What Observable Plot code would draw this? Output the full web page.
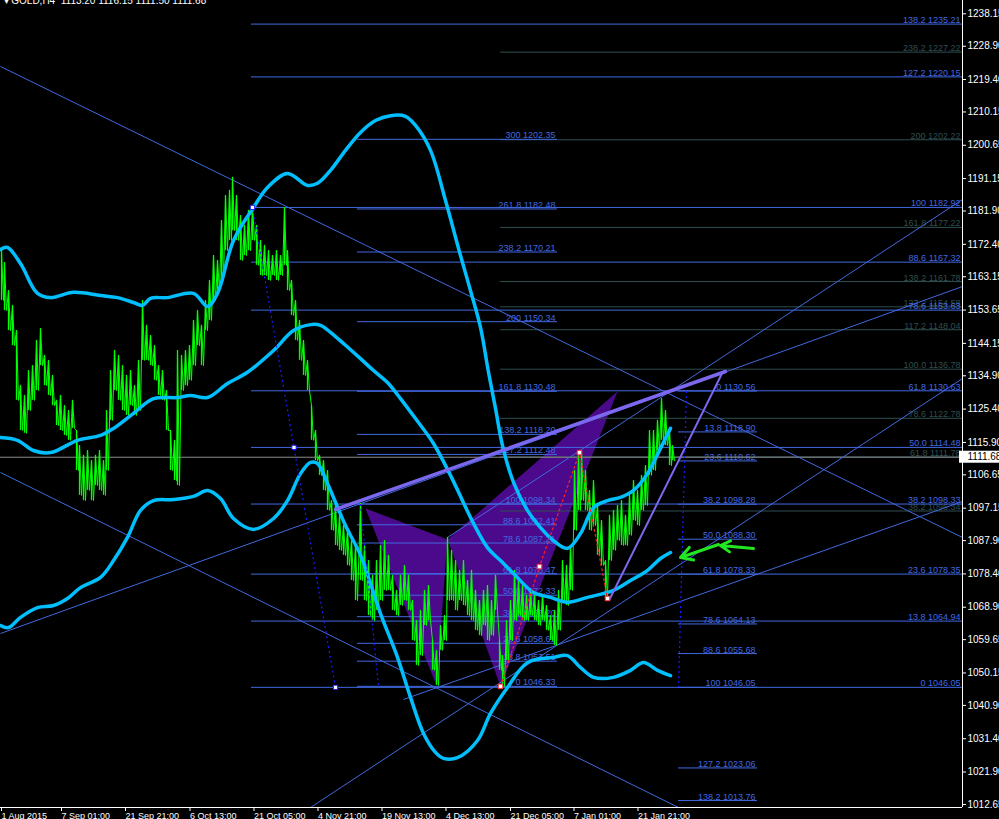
<!DOCTYPE html>
<html><head><meta charset="utf-8">
<script src="https://cdn.jsdelivr.net/npm/d3@7"></script>
<script src="https://cdn.jsdelivr.net/npm/@observablehq/plot@0.6"></script>
<style>html,body{margin:0;padding:0;background:#000;overflow:hidden}</style>
</head><body><div id="chart"></div>
<script>
// ---------- axes ----------
const headerText = "\u25BE GOLD,H4  1113.20 1116.15 1111.50 1111.68";
const yTicks = [1238.15,1228.90,1219.40,1210.15,1200.65,1191.15,1181.90,1172.40,1163.15,1153.65,1144.15,1134.90,1125.40,1115.90,1106.65,1097.15,1087.90,1078.40,1068.90,1059.65,1050.15,1040.90,1031.40,1021.90,1012.65];
const xTickPos = [1,61,125,189.5,253.5,317.5,381.5,445.5,510,573.5,637.5];
const xTickLabels = ["1 Aug 2015","7 Sep 01:00","21 Sep 21:00","6 Oct 13:00","21 Oct 05:00","4 Nov 21:00","19 Nov 13:00","4 Dec 13:00","21 Dec 05:00","7 Jan 01:00","21 Jan 21:00"];
const xDomain = [0, 962];
const yDomain = [1011.78, 1241.94];
const bidPrice = 1111.68;

// ---------- price (H4 bar position, high, low) ----------
const priceX = [1,4,8,12,16,20,24,28,32,36,40,44,48,52,56,60,64,68,72,76,79,83,87,91,95,99,103,106,110,114,118,122,126,130,134,138,142,146,150,154,158,162,166,170,174,177,181,185,189,193,197,201,205,209,213,217,221,225,229,232,236,240,244,248,252,256,260,264,268,272,276,280,284,287,291,295,299,303,307,311,315,319,323,327,331,335,339,343,347,351,355,360,364,368,372,376,380,384,388,392,396,400,404,408,412,416,420,424,428,432,436,440,444,447,451,455,459,463,467,471,475,479,483,487,491,495,499,502,506,510,514,518,522,526,530,534,538,542,546,550,554,558,562,566,570,574,578,581,585,589,593,597,601,605,609,613,617,621,625,629,633,637,641,645,649,653,657,661,665,669,672];
const priceHigh = [1170.6,1167.2,1159.2,1155.0,1147.8,1132.1,1129.3,1136.4,1137.8,1145.0,1148.4,1140.7,1139.3,1135.0,1127.9,1129.3,1126.4,1125.0,1127.9,1119.3,1115.0,1112.2,1113.6,1110.7,1112.2,1113.6,1110.7,1125.0,1136.4,1142.1,1140.7,1137.8,1135.0,1136.4,1132.1,1139.3,1156.4,1149.3,1146.4,1143.5,1137.8,1136.4,1130.7,1119.3,1116.5,1142.1,1140.7,1142.1,1143.5,1150.7,1153.5,1149.3,1156.4,1162.1,1169.2,1167.8,1179.2,1186.3,1187.8,1191.5,1186.3,1180.6,1177.8,1182.1,1183.5,1177.8,1173.5,1172.1,1170.6,1169.2,1170.6,1169.2,1182.9,1170.6,1162.1,1156.4,1150.7,1145.0,1139.3,1126.4,1119.3,1112.2,1110.7,1107.9,1099.3,1097.9,1095.1,1092.2,1090.8,1087.9,1086.5,1098.5,1086.5,1082.2,1078.0,1082.2,1086.5,1087.9,1083.7,1078.0,1073.7,1078.0,1080.8,1078.0,1070.8,1065.1,1068.0,1073.7,1075.1,1059.4,1056.6,1063.7,1066.5,1088.8,1085.1,1082.2,1079.4,1082.2,1076.5,1079.4,1073.7,1070.8,1073.7,1075.1,1070.8,1078.0,1059.4,1055.1,1065.1,1070.8,1079.4,1076.5,1075.1,1072.3,1073.7,1072.3,1070.8,1072.3,1069.4,1066.5,1068.0,1073.7,1082.2,1080.8,1086.5,1107.9,1112.2,1113.0,1107.9,1102.2,1105.0,1097.9,1093.6,1082.2,1095.1,1096.5,1097.9,1099.3,1095.1,1100.8,1105.0,1102.2,1106.5,1109.3,1119.3,1119.3,1122.2,1128.4,1125.0,1119.3,1115.0];
const priceLow = [1156.4,1153.5,1147.8,1143.5,1127.9,1119.3,1118.5,1125.0,1127.9,1130.7,1137.8,1132.1,1129.3,1126.4,1120.7,1119.3,1117.9,1116.5,1119.9,1107.9,1100.8,1099.3,1102.2,1099.3,1103.6,1102.2,1100.8,1107.9,1122.2,1130.7,1127.9,1125.0,1123.6,1126.4,1123.6,1125.0,1139.3,1139.3,1137.8,1133.6,1129.3,1127.9,1119.3,1107.9,1105.0,1103.6,1130.7,1132.1,1133.6,1137.8,1143.5,1137.8,1147.8,1150.7,1156.4,1159.2,1162.1,1170.6,1173.5,1176.3,1173.5,1167.8,1169.2,1170.6,1173.5,1166.4,1163.5,1163.5,1162.1,1163.5,1162.1,1163.5,1166.4,1159.2,1152.1,1145.0,1139.3,1135.0,1130.7,1116.5,1110.7,1106.5,1102.2,1096.5,1090.8,1086.5,1085.1,1083.7,1080.8,1076.5,1070.8,1076.5,1070.8,1066.5,1065.1,1068.0,1070.8,1073.7,1073.7,1068.0,1066.5,1069.4,1070.8,1068.0,1059.4,1052.3,1055.1,1063.7,1065.1,1050.9,1046.6,1056.6,1059.4,1070.8,1070.8,1068.0,1070.8,1069.4,1066.5,1065.1,1062.3,1060.8,1063.7,1059.4,1060.8,1068.0,1050.9,1046.3,1053.7,1059.4,1065.1,1066.5,1065.1,1065.1,1066.5,1065.1,1063.7,1065.1,1062.3,1059.4,1058.0,1062.3,1070.8,1069.4,1073.7,1090.8,1096.5,1099.3,1096.5,1090.8,1092.2,1083.7,1080.8,1071.4,1082.2,1085.1,1087.9,1086.5,1086.5,1089.4,1093.6,1092.2,1096.5,1097.9,1106.5,1107.9,1113.6,1116.5,1115.0,1109.3,1110.7];

// ---------- envelope bands ----------
const upperX = [0,7,20,37,50,73,100,117,133,142,150,167,193,207,217,233,253,267,287,307,317,330,345,360,375,390,405,415,430,445,460,470,480,488,495,502,513,527,540,553,567,580,593,607,620,633,647,660,670];
const upperP = [1170.9,1171.5,1166.9,1158.4,1157.2,1158.7,1157.8,1157.2,1155.8,1155.0,1157.0,1157.2,1158.4,1154.7,1158.4,1173.5,1182.9,1188.6,1192.6,1189.2,1189.8,1193.5,1199.2,1204.3,1207.7,1209.1,1208.9,1206.3,1199.2,1184.9,1169.2,1159.2,1148.7,1135.9,1125.6,1115.0,1104.5,1096.5,1091.6,1087.9,1085.7,1089.9,1097.3,1099.3,1100.2,1102.2,1107.0,1114.2,1119.9];
const middleX = [0,17,33,50,77,100,113,133,153,177,190,207,227,247,273,293,310,320,330,345,360,373,387,400,415,433,450,462,473,487,500,513,533,550,567,587,613,630,647,660,670];
const middleP = [1117.3,1116.5,1113.6,1113.0,1116.5,1117.9,1119.9,1124.2,1128.4,1128.7,1129.3,1128.7,1132.7,1135.9,1142.1,1147.8,1149.5,1149.3,1147.3,1143.6,1139.8,1136.4,1133.0,1128.4,1122.7,1115.6,1106.5,1099.3,1092.8,1085.9,1082.2,1078.5,1073.1,1071.7,1070.3,1071.7,1073.7,1076.5,1079.4,1082.8,1084.5];
const lowerX = [0,8,20,37,53,67,80,100,113,127,140,153,173,193,207,220,233,253,273,287,300,310,317,327,333,345,360,380,397,410,423,435,443,457,477,490,507,527,553,567,580,593,613,630,643,657,670];
const lowerP = [1063.7,1063.1,1066.0,1068.8,1069.4,1071.4,1074.5,1077.4,1082.2,1088.8,1096.5,1099.3,1099.6,1100.5,1102.2,1099.9,1094.2,1091.1,1094.2,1099.3,1107.0,1110.2,1109.9,1104.2,1100.2,1092.2,1083.7,1067.1,1054.6,1043.2,1032.9,1027.5,1025.8,1026.0,1030.9,1038.6,1046.0,1053.1,1054.6,1055.1,1051.7,1048.9,1048.9,1050.9,1053.1,1050.9,1049.4];

// ---------- fibonacci sets ----------
const fibALevels = ["138.2","127.2","100","88.6","78.6","61.8","50.0","38.2","23.6","13.8","0"];
const fibAPrices = [1235.21,1220.15,1182.92,1167.32,1153.63,1130.63,1114.48,1098.33,1078.35,1064.94,1046.05];
const fibASpan = [251, 962];
const fibBLevels = ["238.2","200","161.8","138.2","127.2","117.2","100.0","78.6","61.8","38.2"];
const fibBPrices = [1227.22,1202.22,1177.22,1161.78,1154.58,1148.04,1136.78,1122.78,1111.78,1096.34];
const fibBSpan = [500, 962];
const fibCLevels = ["300","261.8","238.2","200","161.8","138.2","127.2","100","88.6","78.6","61.8","50.0","38.2","23.6","13.8","0"];
const fibCPrices = [1202.35,1182.48,1170.21,1150.34,1130.48,1118.20,1112.48,1098.34,1092.41,1087.21,1078.47,1072.33,1066.20,1058.61,1053.51,1046.33];
const fibCSpan = [357, 557];
const fibDLevels = ["0","13.8","23.6","38.2","50.0","61.8","78.6","88.6","100","127.2","138.2"];
const fibDPrices = [1130.56,1118.90,1110.62,1098.28,1088.30,1078.33,1064.13,1055.68,1046.05,1023.06,1013.76];
const fibDSpan = [678, 757];

// fib trend (dotted) lines
const fibTrendX1 = [252, 360, 686];
const fibTrendP1 = [1182.92, 1098.34, 1130.56];
const fibTrendX2 = [335, 378, 678];
const fibTrendP2 = [1046.05, 1046.33, 1046.05];
const fibAnchorX = [252, 293.5, 335];
const fibAnchorP = [1182.92, 1114.48, 1046.05];

// ---------- trend lines ----------
const trendX1 = [0, 0, 0, 447, 310, 403];
const trendP1 = [1223.12, 1107.33, 1061.41, 1088.79, 1011.78, 1042.59];
const trendX2 = [962, 678, 962, 962, 962, 962];
const trendP2 = [1088.79, 1011.78, 1160.37, 1185.19, 1134.13, 1099.05];
// channel: thick upper line, thinner lower line
const channelTopX = [335, 725];
const channelTopP = [1096.77, 1136.13];
const channelLowX = [609, 722];
const channelLowP = [1071.11, 1135.85];

// ---------- harmonic pattern ----------
const patternX = [365, 436, 447, 617, 500];
const patternP = [1097.06, 1046.58, 1088.22, 1130.43, 1046.33];
const zigzagX = [500, 539, 579, 607];
const zigzagP = [1046.33, 1080.5, 1113.0, 1071.4];

// ---------- arrows ----------
const arrowX1 = [753, 718];
const arrowP1 = [1085.65, 1086.79];
const arrowX2 = [720, 680];
const arrowP2 = [1086.5, 1083.08];

// ---------- build ----------
const BLUE = "#4169E1", GRAY = "#2F4F4F", CYAN = "#00BFFF", LIME = "#00FF00";
const bars = priceX.map((x, i) => ({x, hi: priceHigh[i], lo: priceLow[i]}));
const zig = bars.flatMap(b => [{x: b.x, p: b.hi}, {x: b.x + 2, p: b.lo}]);
const pts = (xs, ps) => xs.map((x, i) => ({x, p: ps[i]}));
const tri = [[0,1,2],[2,3,4]].flatMap((t, k) => t.map(j => ({x: patternX[j], p: patternP[j], k})));
const links = (x1, p1, x2, p2) => x1.map((x, i) => ({x1: x, y1: p1[i], x2: x2[i], y2: p2[i]}));
const xLabelMap = new Map(xTickPos.map((d, i) => [d, xTickLabels[i]]));

function fib(levels, prices, span, color) {
  const d = levels.map((l, i) => ({l, p: prices[i]}));
  return [
    Plot.ruleY(d, {y: "p", x1: span[0], x2: span[1], stroke: color, strokeWidth: 1}),
    Plot.text(d, {x: span[1], y: "p", text: e => `${e.l} ${e.p.toFixed(2)}`, textAnchor: "end", lineAnchor: "bottom", dx: -2, dy: -1, fill: color, fontSize: 9})
  ];
}

const chart = Plot.plot({
  width: 999, height: 819,
  marginTop: 0, marginRight: 37, marginBottom: 12, marginLeft: 0,
  style: {background: "#000", color: "#fff", fontFamily: "'Liberation Sans', Arial, sans-serif", overflow: "visible"},
  x: {domain: xDomain, axis: null},
  y: {domain: yDomain, axis: null},
  marks: [
    Plot.line(tri, {x: "x", y: "p", z: "k", fill: "#4B0A8C", stroke: "none"}),
    ...fib(fibBLevels, fibBPrices, fibBSpan, GRAY),
    ...fib(fibALevels, fibAPrices, fibASpan, BLUE),
    ...fib(fibCLevels, fibCPrices, fibCSpan, BLUE),
    ...fib(fibDLevels, fibDPrices, fibDSpan, BLUE),
    Plot.ruleY([bidPrice], {stroke: "#8c8c8c"}),
    Plot.link(links(trendX1, trendP1, trendX2, trendP2), {x1: "x1", y1: "y1", x2: "x2", y2: "y2", stroke: BLUE, strokeWidth: 1, clip: true}),
    Plot.ruleX(bars, {x: "x", y1: "lo", y2: "hi", stroke: LIME, strokeWidth: 1.3}),
    Plot.line(zig, {x: "x", y: "p", stroke: LIME, strokeWidth: 1}),
    Plot.line(pts(upperX, upperP), {x: "x", y: "p", stroke: CYAN, strokeWidth: 3.5, curve: "catmull-rom"}),
    Plot.line(pts(middleX, middleP), {x: "x", y: "p", stroke: CYAN, strokeWidth: 3.5, curve: "catmull-rom"}),
    Plot.line(pts(lowerX, lowerP), {x: "x", y: "p", stroke: CYAN, strokeWidth: 3.5, curve: "catmull-rom"}),
    Plot.line(pts(channelTopX, channelTopP), {x: "x", y: "p", stroke: "#7B68EE", strokeWidth: 3.5}),
    Plot.line(pts(channelLowX, channelLowP), {x: "x", y: "p", stroke: "#7B68EE", strokeWidth: 2}),
    Plot.link(links(fibTrendX1, fibTrendP1, fibTrendX2, fibTrendP2), {x1: "x1", y1: "y1", x2: "x2", y2: "y2", stroke: "#1a1aff", strokeWidth: 1.2, strokeDasharray: "2,3"}),
    Plot.line(pts(zigzagX, zigzagP), {x: "x", y: "p", stroke: "#ff2020", strokeWidth: 1.2, strokeDasharray: "2,3"}),
    Plot.dot(pts(zigzagX, zigzagP), {x: "x", y: "p", symbol: "square", r: 2.6, fill: "white", stroke: "#ff2020", strokeWidth: 1}),
    Plot.dot(pts(fibAnchorX, fibAnchorP), {x: "x", y: "p", symbol: "square", r: 2.4, fill: "white", stroke: "#1a1aff", strokeWidth: 1}),
    Plot.arrow(links(arrowX1, arrowP1, arrowX2, arrowP2), {x1: "x1", y1: "y1", x2: "x2", y2: "y2", stroke: "#22e622", strokeWidth: 3, headLength: 11}),
    Plot.ruleX([xDomain[1]], {stroke: "white"}),
    Plot.ruleY([yDomain[0]], {stroke: "white"}),
    Plot.axisY(yTicks, {anchor: "right", tickSize: 3, tickPadding: 2, tickFormat: d => d.toFixed(2), fontSize: 10, label: null, color: "white"}),
    Plot.axisX(xTickPos, {anchor: "bottom", tickSize: 4, tickPadding: 1, tickFormat: d => xLabelMap.get(d), textAnchor: "start", fontSize: 9, label: null, color: "white"}),
    Plot.rect([bidPrice], {x1: xDomain[1], x2: xDomain[1], y1: d => d, y2: d => d, insetLeft: -3, insetRight: -40, insetTop: -6, insetBottom: -6, fill: "white"}),
    Plot.text([bidPrice], {x: xDomain[1], y: d => d, text: d => d.toFixed(2), dx: 5, textAnchor: "start", fill: "black", fontSize: 10}),
    Plot.text([headerText], {frameAnchor: "top-left", text: d => d, textAnchor: "start", lineAnchor: "bottom", dx: 3, dy: 3, fill: "white", fontSize: 10})
  ]
});
document.getElementById("chart").appendChild(chart);
</script></body></html>
